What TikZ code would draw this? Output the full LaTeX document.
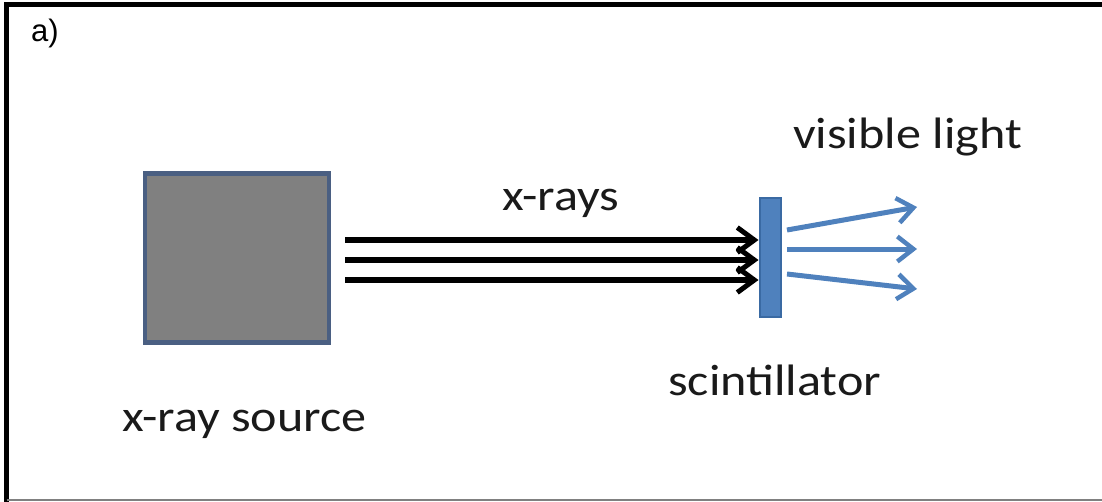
\documentclass[tikz,border=0pt]{standalone}
\usepackage{fontspec}
\setmainfont{Carlito}[FakeStretch=1.14]
\newfontfamily\arialfont{Liberation Sans}
\usetikzlibrary{arrows.meta}
\definecolor{srcfill}{HTML}{808080}
\definecolor{srcedge}{HTML}{4A5F82}
\definecolor{scfill}{HTML}{4F81BD}
\definecolor{scedge}{HTML}{3A6AA3}
\definecolor{txt}{HTML}{1A1A1A}
\tikzset{
  lbl/.style={font=\fontsize{44}{48}\selectfont, text=txt, inner sep=0pt, anchor=base west},
  xray/.style={line width=5.5pt, black, -{Straight Barb[length=17pt,width=25pt,line width=5pt]}},
  vis/.style={line width=5pt, scfill, -{Straight Barb[length=16pt,width=25pt,line width=4.5pt]}},
}
\begin{document}
\begin{tikzpicture}[x=1pt,y=-1pt]
\useasboundingbox (0,0) rectangle (1102,501);
% frame
\draw[line width=5pt] (1104,4.5) -- (6.5,4.5) -- (6.5,503);
\draw[line width=1.5pt, gray] (6.5,500.2) -- (1104,500.2);
\node[font=\arialfont\fontsize{31}{34}\selectfont, inner sep=0pt, anchor=base west] (lab) at (31,41) {a)};
% x-ray source
\node[draw=srcedge, fill=srcfill, line width=4.5pt, minimum width=184pt, minimum height=169pt, inner sep=0pt] (src) at (237,258) {};
\node[lbl] (srclbl) at (122,431) {x-ray source};
% scintillator
\node[draw=scedge, fill=scfill, line width=2pt, minimum width=21pt, minimum height=119pt, inner sep=0pt] (sc) at (770,257) {};
\node[lbl] (sclbl) at (668,395) {scintillator};
% x-rays
\coordinate (a1) at (345,240);
\coordinate (a2) at (345,260);
\coordinate (a3) at (345,280);
\draw[xray] (a1) -- (a1 -| sc.west);
\draw[xray] (a2) -- (a2 -| sc.west);
\draw[xray] (a3) -- (a3 -| sc.west);
\node[lbl] (xlbl) at (502,210) {x-rays};
% visible light
\coordinate (s1) at (787,230);
\coordinate (s2) at (787,249);
\coordinate (s3) at (787,274);
\coordinate (v1) at (917,207);
\coordinate (v2) at (917,249);
\coordinate (v3) at (917,289);
\draw[vis] (s1) -- (v1);
\draw[vis] (s2) -- (v2);
\draw[vis] (s3) -- (v3);
\node[lbl] (vlbl) at (793,148) {visible light};
\end{tikzpicture}
\end{document}
